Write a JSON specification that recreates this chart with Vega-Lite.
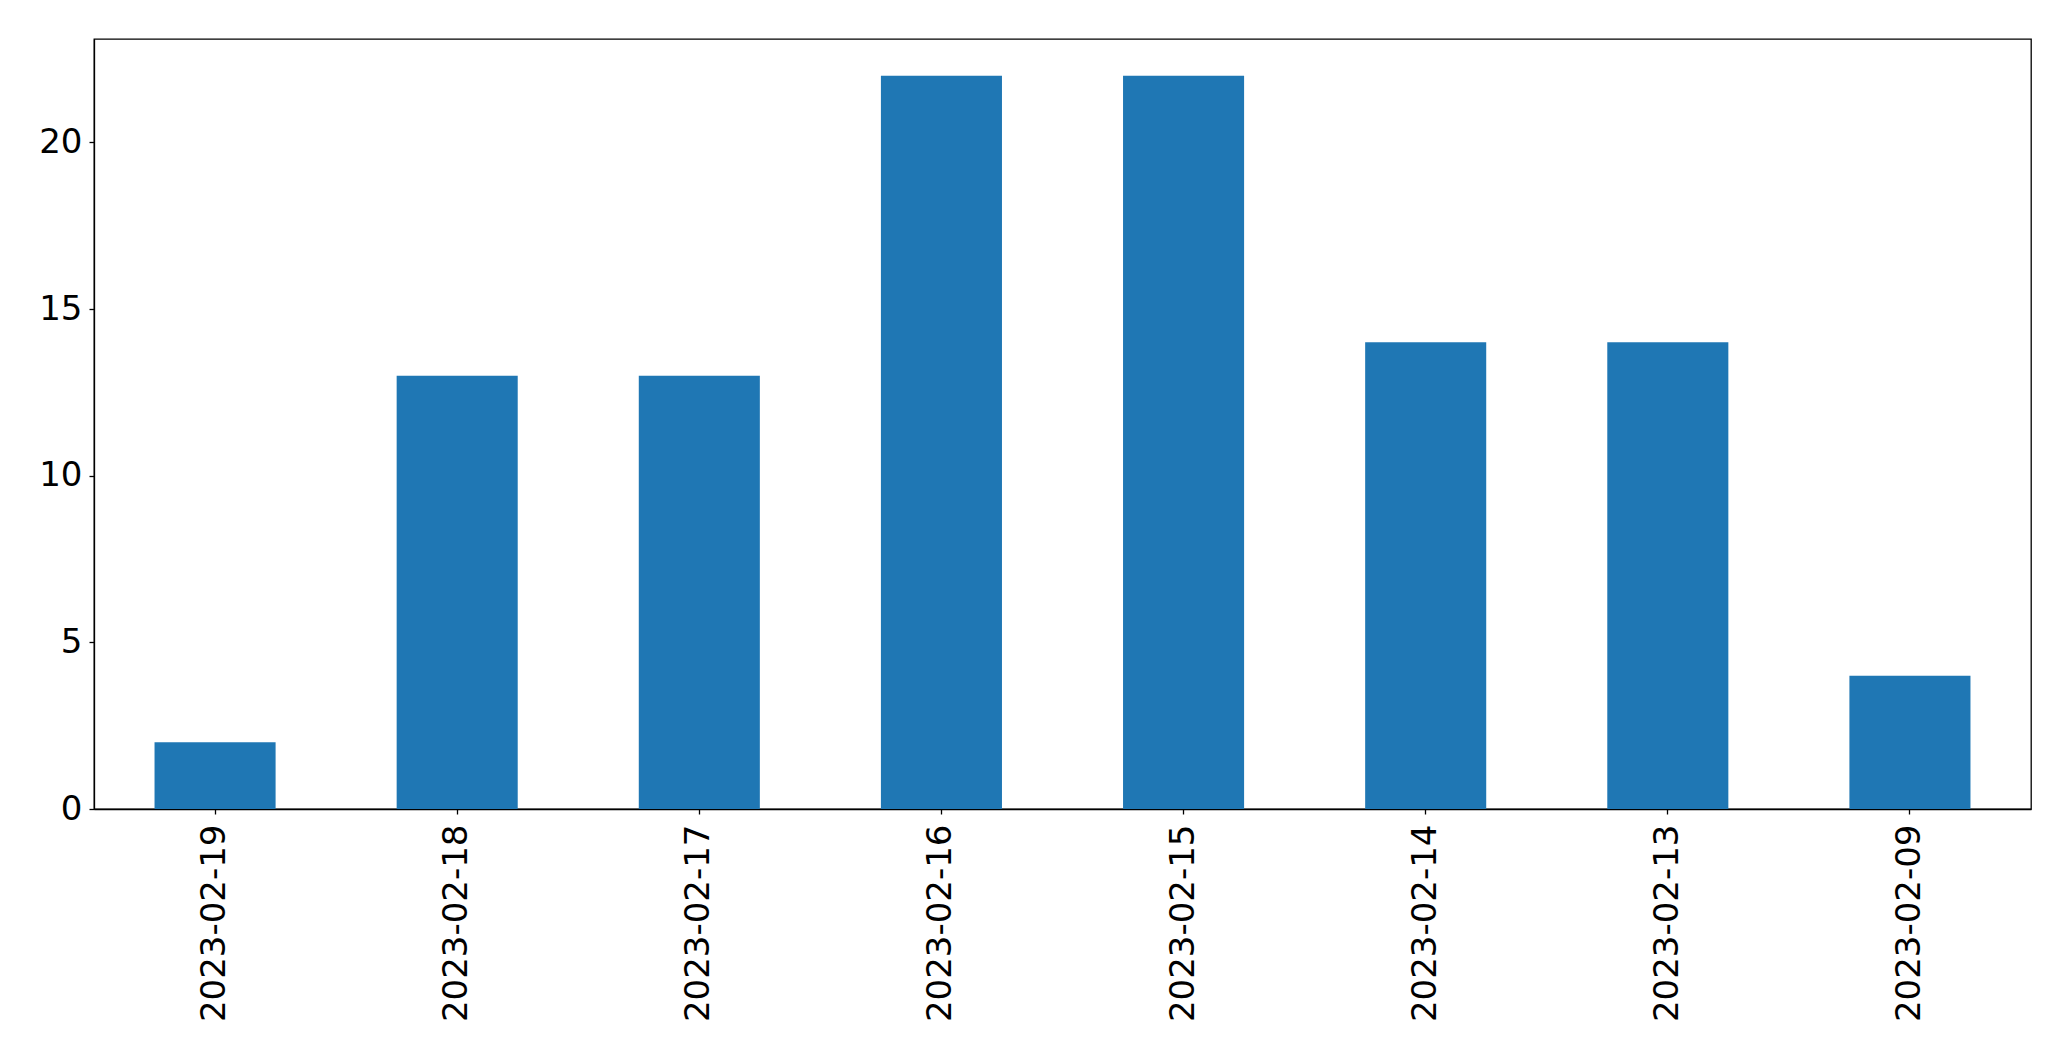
{
  "$schema": "https://vega.github.io/schema/vega-lite/v6.json",
  "width": 1937,
  "height": 770,
  "autosize": {"type": "none"},
  "padding": {"left": 94, "top": 39, "right": 40, "bottom": 252},
  "background": "white",
  "config": {
    "view": {"stroke": "black", "strokeWidth": 1.3},
    "axis": {
      "labelFont": "DejaVu Sans",
      "labelFontSize": 34,
      "labelColor": "black",
      "labelLimit": 0,
      "domainColor": "black",
      "tickColor": "black",
      "tickSize": 5,
      "domainWidth": 1.3,
      "tickWidth": 1.3,
      "grid": false,
      "title": null
    }
  },
  "data": {
    "values": [
      {"date": "2023-02-19", "count": 2},
      {"date": "2023-02-18", "count": 13},
      {"date": "2023-02-17", "count": 13},
      {"date": "2023-02-16", "count": 22},
      {"date": "2023-02-15", "count": 22},
      {"date": "2023-02-14", "count": 14},
      {"date": "2023-02-13", "count": 14},
      {"date": "2023-02-09", "count": 4}
    ]
  },
  "mark": {"type": "bar", "color": "#1f77b4"},
  "encoding": {
    "x": {
      "field": "date",
      "type": "nominal",
      "sort": null,
      "scale": {"paddingInner": 0.5, "paddingOuter": 0.25},
      "axis": {"labelAngle": -90, "labelPadding": 10, "labelLimit": 0, "title": null}
    },
    "y": {
      "field": "count",
      "type": "quantitative",
      "scale": {"domain": [0, 23.1], "nice": false, "zero": true},
      "axis": {"values": [0, 5, 10, 15, 20], "labelPadding": 7, "title": null}
    }
  }
}
